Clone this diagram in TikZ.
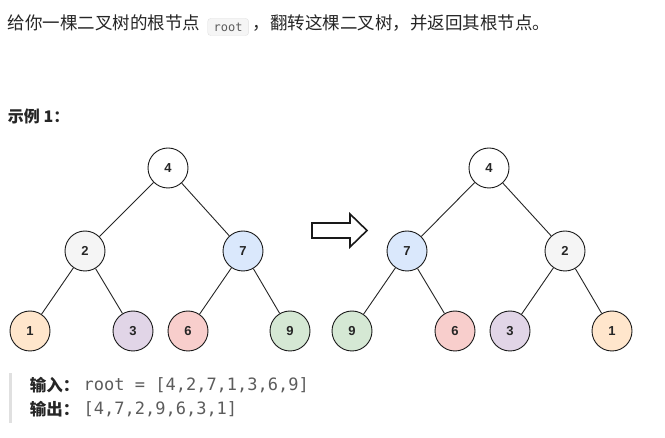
\documentclass[tikz,border=0pt]{standalone}
\usepackage{fontspec}
\setmainfont{Liberation Sans}
\newfontfamily\cjk{Noto Sans CJK SC}
\newfontfamily\mono{DejaVu Sans Mono}
\usetikzlibrary{positioning}
\definecolor{txt}{HTML}{262626}
\definecolor{codegray}{HTML}{5C5C5C}
\definecolor{cA}{HTML}{F5F5F5}
\definecolor{cB}{HTML}{DAE8FC}
\definecolor{cC}{HTML}{FFE6CC}
\definecolor{cD}{HTML}{E1D5E7}
\definecolor{cE}{HTML}{F8CECC}
\definecolor{cF}{HTML}{D5E8D4}
\begin{document}
\begin{tikzpicture}[x=1pt,y=-1pt,
  tn/.style={circle,draw=black!90,line width=0.9pt,minimum size=40pt,inner sep=0pt,
    font=\fontsize{13}{13}\selectfont\bfseries,text=black!85},
  tedge/.style={draw=black!85,line width=0.9pt},
  body/.style={inner sep=0pt,outer sep=0pt,anchor=west,text=txt,font=\cjk\fontsize{17.5}{19}\selectfont},
  codebox/.style={draw=black!12,fill=black!4,rounded corners=3pt,inner xsep=6pt,inner ysep=0pt,
    minimum height=17pt,font=\mono\fontsize{12}{14}\selectfont,text=codegray},
  codetxt/.style={inner sep=0pt,anchor=west,font=\mono\fontsize{17}{19}\selectfont,text=codegray}]
\useasboundingbox (0,0) rectangle (665,438);
\fill[white] (0,0) rectangle (665,438);

% heading line
\node[body] (t1) at (8,23) {给你一棵二叉树的根节点};
\node[codebox,anchor=west] (code) at ([xshift=7pt,yshift=-4pt]t1.east) {root};
\node[body] (t2) at ([xshift=4pt]code.east |- t1.east) {，翻转这棵二叉树，并返回其根节点。};

\node[body,font=\cjk\bfseries\fontsize{16}{18}\selectfont] (ex) at (8,116) {示例 1：};

% left tree
\node[tn,fill=white] (a4) at (168,168) {4};
\node[tn,fill=cA] (a2) at (85,251) {2};
\node[tn,fill=cB] (a7) at (243,251) {7};
\node[tn,fill=cC] (a1) at (30,331) {1};
\node[tn,fill=cD] (a3) at (133,331) {3};
\node[tn,fill=cE] (a6) at (188,331) {6};
\node[tn,fill=cF] (a9) at (290,331) {9};
\draw[tedge] (a4) -- (a2);
\draw[tedge] (a4) -- (a7);
\draw[tedge] (a2) -- (a1);
\draw[tedge] (a2) -- (a3);
\draw[tedge] (a7) -- (a6);
\draw[tedge] (a7) -- (a9);

% arrow
\draw[line width=1.6pt,draw=black!90,fill=white,line join=miter]
  (312,223) -- (350,223) -- (350,214) -- (367,230.5) -- (350,247) -- (350,238) -- (312,238) -- cycle;

% right tree
\node[tn,fill=white] (b4) at (489,168) {4};
\node[tn,fill=cB] (b7) at (407,251) {7};
\node[tn,fill=cA] (b2) at (565,251) {2};
\node[tn,fill=cF] (b9) at (352,331) {9};
\node[tn,fill=cE] (b6) at (455,331) {6};
\node[tn,fill=cD] (b3) at (510,331) {3};
\node[tn,fill=cC] (b1) at (612,331) {1};
\draw[tedge] (b4) -- (b7);
\draw[tedge] (b4) -- (b2);
\draw[tedge] (b7) -- (b9);
\draw[tedge] (b7) -- (b6);
\draw[tedge] (b2) -- (b3);
\draw[tedge] (b2) -- (b1);

% input/output block
\fill[black!12] (9,373) rectangle (12,423);
\node[body,font=\cjk\bfseries\fontsize{16.5}{18}\selectfont] (in) at (30,385) {输入：};
\node[codetxt] (inv) at ([xshift=4pt]in.east) {root = [4,2,7,1,3,6,9]};
\node[body,font=\cjk\bfseries\fontsize{16.5}{18}\selectfont] (out) at (30,409) {输出：};
\node[codetxt] (outv) at ([xshift=4pt]out.east) {[4,7,2,9,6,3,1]};
\end{tikzpicture}
\end{document}
